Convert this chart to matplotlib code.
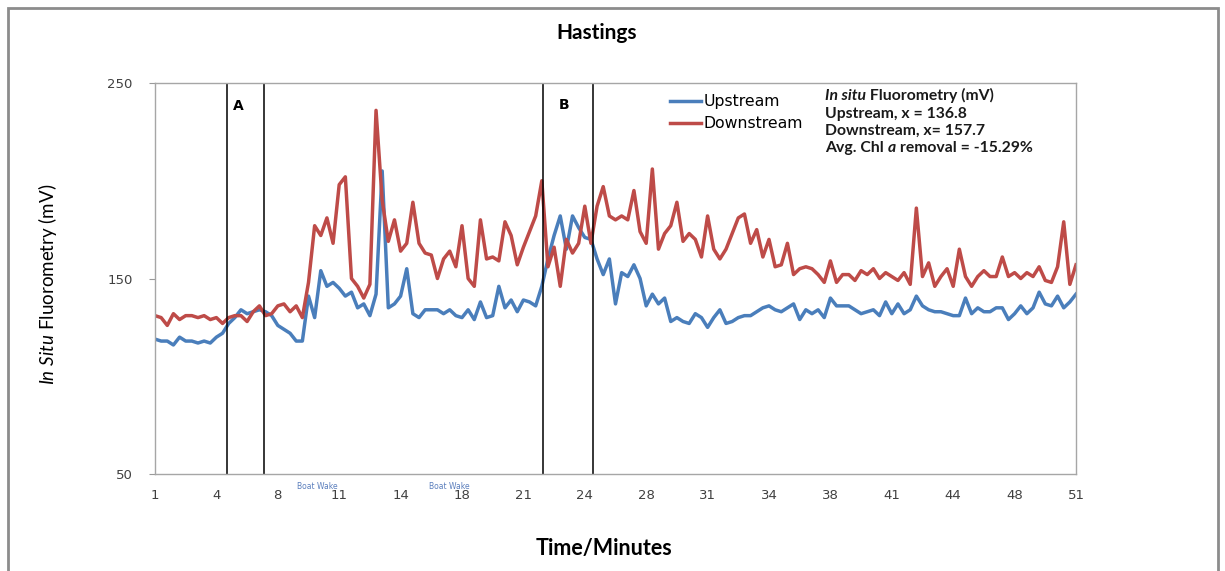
import numpy as np
import matplotlib
matplotlib.use("Agg")
import matplotlib.pyplot as plt
from matplotlib.patches import Rectangle
from matplotlib.offsetbox import TextArea, HPacker, VPacker, AnchoredOffsetbox

# readings, one every ~20 s, index 0..150
upstream = [
    119, 118, 118, 116, 120, 118, 118, 117, 118, 117,
    120, 122, 127, 130, 134, 132, 133, 134, 133, 131,
    126, 124, 122, 118, 118, 141, 130, 154, 146, 148,
    145, 141, 143, 135, 137, 131, 142, 205, 135, 137,
    141, 155, 132, 130, 134, 134, 134, 132, 134, 131,
    130, 134, 129, 138, 130, 131, 146, 135, 139, 133,
    139, 138, 136, 146, 160, 172, 182, 165, 182, 176,
    171, 170, 160, 152, 160, 137, 153, 151, 157, 150,
    136, 142, 137, 140, 128, 130, 128, 127, 132, 130,
    125, 130, 134, 127, 128, 130, 131, 131, 133, 135,
    136, 134, 133, 135, 137, 129, 134, 132, 134, 130,
    140, 136, 136, 136, 134, 132, 133, 134, 131, 138,
    132, 137, 132, 134, 141, 136, 134, 133, 133, 132,
    131, 131, 140, 132, 135, 133, 133, 135, 135, 129,
    132, 136, 132, 135, 143, 137, 136, 141, 135, 138,
    142,
]
downstream = [
    131, 130, 126, 132, 129, 131, 131, 130, 131, 129,
    130, 127, 130, 131, 131, 128, 133, 136, 131, 132,
    136, 137, 133, 136, 130, 148, 177, 172, 181, 168,
    198, 202, 150, 146, 140, 147, 236, 190, 169, 180,
    164, 168, 189, 168, 163, 162, 150, 160, 164, 156,
    177, 150, 146, 180, 160, 161, 159, 179, 172, 157,
    166, 174, 182, 200, 156, 166, 146, 170, 163, 168,
    187, 168, 187, 197, 182, 180, 182, 180, 195, 174,
    168, 206, 165, 173, 177, 189, 169, 173, 170, 161,
    182, 165, 160, 165, 173, 181, 183, 168, 175, 161,
    170, 156, 157, 168, 152, 155, 156, 155, 152, 148,
    159, 148, 152, 152, 149, 154, 152, 155, 150, 153,
    151, 149, 153, 147, 186, 151, 158, 146, 151, 155,
    146, 165, 151, 146, 151, 154, 151, 151, 161, 151,
    153, 150, 153, 151, 156, 149, 148, 156, 179, 147,
    157,
]
minute_labels = ['1', '4', '8', '11', '14', '18', '21', '24', '28', '31',
                 '34', '38', '41', '44', '48', '51']

x = np.arange(len(upstream))
label_pos = np.linspace(0, len(upstream) - 1, len(minute_labels))

plt.rcParams['font.family'] = ['DejaVu Sans']
plt.rcParams['mathtext.fontset'] = 'custom'
plt.rcParams['mathtext.rm'] = 'Lato'
plt.rcParams['mathtext.it'] = 'Lato:italic'
plt.rcParams['mathtext.bf'] = 'Lato:italic:bold'

fig = plt.figure(figsize=(12.25, 5.71), dpi=100)
ax = fig.add_axes([155 / 1225, 1 - 474 / 571, 921 / 1225, 391 / 571])

# outer chart frame
fig.patches.append(Rectangle((8 / 1225, -0.05), 1210 / 1225, 1.05 - 8 / 571,
                             transform=fig.transFigure, fill=False,
                             edgecolor='#8c8c8c', lw=2))

blue = '#4a7ebb'
red = '#be4b48'
ax.plot(x, upstream, color=blue, lw=2.5, label='Upstream')
ax.plot(x, downstream, color=red, lw=2.5, label='Downstream')

# sampling windows A and B
for xv in [11.7, 17.7, 63.2, 71.3]:
    ax.axvline(xv, color='black', lw=1.1)
ax.text(13.6, 238, 'A', fontsize=10, fontweight='bold', ha='center', va='center')
ax.text(66.6, 239, 'B', fontsize=10, fontweight='bold', ha='center', va='center')

ax.set_xlim(0, len(upstream) - 1)
ax.set_ylim(50, 250)
ax.set_yticks([50, 150, 250])
ax.set_xticks(label_pos)
ax.set_xticklabels(minute_labels)
ax.tick_params(axis='x', length=0, pad=11, labelsize=9.5, labelcolor='#404040')
ax.tick_params(axis='y', length=4, width=0.8, color='#999999', pad=12,
               labelsize=9.5, labelcolor='#404040')
for s in ax.spines.values():
    s.set_color('#a6a6a6')
    s.set_linewidth(1)

# boat wake notes under the axis
for xp in [26.5, 48.0]:
    ax.text(xp, -0.02, 'Boat Wake', transform=ax.get_xaxis_transform(),
            fontsize=5.5, color='#5b7fbd', ha='center', va='top')

ax.legend(loc='upper left', bbox_to_anchor=(670 / 1225, 1 - 94 / 571),
          bbox_transform=fig.transFigure, frameon=False,
          prop=dict(family='DejaVu Sans', size=11.3),
          handlelength=2.0, handletextpad=0.15, labelspacing=0.45,
          borderaxespad=0, borderpad=0)

bt = dict(fontfamily='Lato', fontweight='bold', fontsize=11.3, color='#1a1a1a')
rows = [
    HPacker(children=[TextArea('In situ', textprops=dict(bt, fontstyle='italic')),
                      TextArea(' Fluorometry (mV)', textprops=bt)], pad=0, sep=0),
    TextArea('Upstream, x = 136.8', textprops=bt),
    TextArea('Downstream, x= 157.7', textprops=bt),
    HPacker(children=[TextArea('Avg. Chl ', textprops=bt),
                      TextArea('a', textprops=dict(bt, fontstyle='italic')),
                      TextArea(' removal = -15.29%', textprops=bt)], pad=0, sep=0),
]
box = VPacker(children=rows, align='left', pad=0, sep=2.5)
anch = AnchoredOffsetbox(loc='upper left', child=box, frameon=False,
                         bbox_to_anchor=(825 / 1225, 1 - 88 / 571),
                         bbox_transform=fig.transFigure, borderpad=0, pad=0)
fig.add_artist(anch)

fig.text(597 / 1225, 1 - 33 / 571, 'Hastings', fontfamily='Lato', fontweight='bold',
         fontsize=15, ha='center', va='center')
fig.text(604 / 1225, 1 - 549 / 571, 'Time/Minutes', fontfamily='Lato',
         fontweight='bold', fontsize=15.5, ha='center', va='center')
fig.text(48 / 1225, 1 - 284 / 571, r'$\mathit{In\ Situ}$ Fluorometry (mV)',
         fontfamily='Lato', fontsize=13.5, rotation=90, ha='center', va='center')

fig.savefig('out.png', dpi=100)
